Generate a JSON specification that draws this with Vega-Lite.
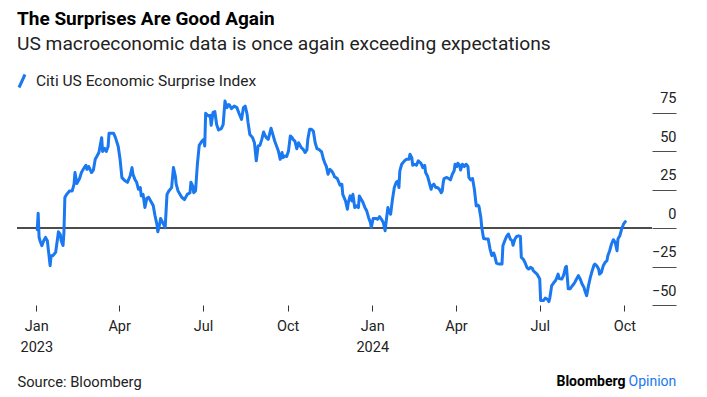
{
  "$schema": "https://vega.github.io/schema/vega-lite/v6.json",
  "width": 635,
  "height": 209,
  "autosize": {"type": "none"},
  "padding": {"left": 17, "top": 96, "right": 55, "bottom": 92},
  "background": "white",
  "title": {
    "text": "The Surprises Are Good Again",
    "subtitle": "US macroeconomic data is once again exceeding expectations",
    "anchor": "start",
    "frame": "group",
    "offset": 19,
    "font": "Roboto",
    "fontSize": 19,
    "fontWeight": "bold",
    "color": "#000000",
    "subtitleFont": "Roboto",
    "subtitleFontSize": 19.2,
    "subtitleColor": "#222222",
    "subtitlePadding": 6
  },
  "data": {
    "values": [
      {"date": "2023-01-02", "value": -1},
      {"date": "2023-01-03", "value": 9.7},
      {"date": "2023-01-04", "value": -6},
      {"date": "2023-01-05", "value": -8.2},
      {"date": "2023-01-07", "value": -11.4},
      {"date": "2023-01-09", "value": -8.2},
      {"date": "2023-01-11", "value": -6},
      {"date": "2023-01-13", "value": -8.2},
      {"date": "2023-01-14", "value": -13.6},
      {"date": "2023-01-16", "value": -24.4},
      {"date": "2023-01-17", "value": -17.9},
      {"date": "2023-01-19", "value": -17.9},
      {"date": "2023-01-22", "value": -15.7},
      {"date": "2023-01-24", "value": -7.1},
      {"date": "2023-01-25", "value": -2.4},
      {"date": "2023-01-27", "value": -4},
      {"date": "2023-01-28", "value": -8.2},
      {"date": "2023-01-30", "value": -11.3},
      {"date": "2023-01-31", "value": -2.9},
      {"date": "2023-02-01", "value": 19.9},
      {"date": "2023-02-03", "value": 22},
      {"date": "2023-02-06", "value": 24.2},
      {"date": "2023-02-09", "value": 24.2},
      {"date": "2023-02-11", "value": 28.6},
      {"date": "2023-02-12", "value": 36.2},
      {"date": "2023-02-14", "value": 29},
      {"date": "2023-02-17", "value": 32.3},
      {"date": "2023-02-19", "value": 36.2},
      {"date": "2023-02-22", "value": 39.4},
      {"date": "2023-02-24", "value": 40.9},
      {"date": "2023-02-25", "value": 38.3},
      {"date": "2023-02-27", "value": 40.1},
      {"date": "2023-03-02", "value": 36.2},
      {"date": "2023-03-04", "value": 37.8},
      {"date": "2023-03-06", "value": 44.8},
      {"date": "2023-03-08", "value": 47},
      {"date": "2023-03-10", "value": 49.2},
      {"date": "2023-03-13", "value": 58.9},
      {"date": "2023-03-14", "value": 49.9},
      {"date": "2023-03-16", "value": 52},
      {"date": "2023-03-18", "value": 49.9},
      {"date": "2023-03-20", "value": 53.1},
      {"date": "2023-03-21", "value": 61.7},
      {"date": "2023-03-24", "value": 61.7},
      {"date": "2023-03-26", "value": 61.7},
      {"date": "2023-03-28", "value": 58.9},
      {"date": "2023-03-31", "value": 53.1},
      {"date": "2023-04-02", "value": 44.8},
      {"date": "2023-04-04", "value": 32.9},
      {"date": "2023-04-07", "value": 31},
      {"date": "2023-04-10", "value": 29.8},
      {"date": "2023-04-13", "value": 34.1},
      {"date": "2023-04-15", "value": 39.4},
      {"date": "2023-04-16", "value": 35.1},
      {"date": "2023-04-18", "value": 31.9},
      {"date": "2023-04-20", "value": 29.8},
      {"date": "2023-04-22", "value": 25.3},
      {"date": "2023-04-24", "value": 26.4},
      {"date": "2023-04-25", "value": 21},
      {"date": "2023-04-27", "value": 22},
      {"date": "2023-04-29", "value": 13.4},
      {"date": "2023-05-01", "value": 19.4},
      {"date": "2023-05-03", "value": 20.1},
      {"date": "2023-05-06", "value": 16.9},
      {"date": "2023-05-08", "value": 14.7},
      {"date": "2023-05-10", "value": 8},
      {"date": "2023-05-12", "value": 2.6},
      {"date": "2023-05-13", "value": -2.4},
      {"date": "2023-05-15", "value": 2.6},
      {"date": "2023-05-16", "value": 6.3},
      {"date": "2023-05-18", "value": 4.1},
      {"date": "2023-05-21", "value": 0.3},
      {"date": "2023-05-23", "value": 22},
      {"date": "2023-05-25", "value": 24.2},
      {"date": "2023-05-28", "value": 26.4},
      {"date": "2023-05-30", "value": 39.4},
      {"date": "2023-06-01", "value": 34.1},
      {"date": "2023-06-02", "value": 28.6},
      {"date": "2023-06-04", "value": 24.2},
      {"date": "2023-06-08", "value": 20.1},
      {"date": "2023-06-11", "value": 18.6},
      {"date": "2023-06-14", "value": 22},
      {"date": "2023-06-17", "value": 23.1},
      {"date": "2023-06-18", "value": 29.9},
      {"date": "2023-06-20", "value": 27.3},
      {"date": "2023-06-21", "value": 23.1},
      {"date": "2023-06-23", "value": 24.2},
      {"date": "2023-06-25", "value": 41.6},
      {"date": "2023-06-27", "value": 53.9},
      {"date": "2023-06-30", "value": 56.7},
      {"date": "2023-07-02", "value": 57.8},
      {"date": "2023-07-03", "value": 53.5},
      {"date": "2023-07-04", "value": 74.7},
      {"date": "2023-07-07", "value": 73},
      {"date": "2023-07-09", "value": 73.4},
      {"date": "2023-07-10", "value": 66.9},
      {"date": "2023-07-12", "value": 75.3},
      {"date": "2023-07-14", "value": 75.8},
      {"date": "2023-07-16", "value": 67.3},
      {"date": "2023-07-18", "value": 63.9},
      {"date": "2023-07-21", "value": 64.7},
      {"date": "2023-07-23", "value": 67.3},
      {"date": "2023-07-25", "value": 82.7},
      {"date": "2023-07-27", "value": 78.4},
      {"date": "2023-07-29", "value": 80.5},
      {"date": "2023-07-30", "value": 80},
      {"date": "2023-08-01", "value": 77.8},
      {"date": "2023-08-04", "value": 79.4},
      {"date": "2023-08-07", "value": 78.4},
      {"date": "2023-08-09", "value": 75.1},
      {"date": "2023-08-12", "value": 70.8},
      {"date": "2023-08-14", "value": 78.4},
      {"date": "2023-08-16", "value": 79.4},
      {"date": "2023-08-18", "value": 74.2},
      {"date": "2023-08-19", "value": 69},
      {"date": "2023-08-21", "value": 61},
      {"date": "2023-08-24", "value": 58.9},
      {"date": "2023-08-26", "value": 55.6},
      {"date": "2023-08-28", "value": 43.8},
      {"date": "2023-08-30", "value": 53.5},
      {"date": "2023-09-01", "value": 53.9},
      {"date": "2023-09-03", "value": 57.8},
      {"date": "2023-09-05", "value": 62.6},
      {"date": "2023-09-06", "value": 61},
      {"date": "2023-09-08", "value": 58.9},
      {"date": "2023-09-10", "value": 57.8},
      {"date": "2023-09-13", "value": 65},
      {"date": "2023-09-15", "value": 61},
      {"date": "2023-09-17", "value": 56.7},
      {"date": "2023-09-19", "value": 53.5},
      {"date": "2023-09-21", "value": 50.2},
      {"date": "2023-09-23", "value": 44.8},
      {"date": "2023-09-25", "value": 49.2},
      {"date": "2023-09-26", "value": 45.9},
      {"date": "2023-09-28", "value": 47},
      {"date": "2023-09-30", "value": 46.6},
      {"date": "2023-10-02", "value": 50.2},
      {"date": "2023-10-04", "value": 60},
      {"date": "2023-10-06", "value": 58.9},
      {"date": "2023-10-07", "value": 57.8},
      {"date": "2023-10-09", "value": 56.7},
      {"date": "2023-10-11", "value": 51.7},
      {"date": "2023-10-13", "value": 55.6},
      {"date": "2023-10-14", "value": 54.5},
      {"date": "2023-10-16", "value": 52.4},
      {"date": "2023-10-18", "value": 51.3},
      {"date": "2023-10-20", "value": 49.2},
      {"date": "2023-10-22", "value": 50.9},
      {"date": "2023-10-23", "value": 57.8},
      {"date": "2023-10-25", "value": 64.3},
      {"date": "2023-10-27", "value": 64.3},
      {"date": "2023-10-29", "value": 63.2},
      {"date": "2023-10-31", "value": 55.6},
      {"date": "2023-11-02", "value": 51.7},
      {"date": "2023-11-04", "value": 51.3},
      {"date": "2023-11-07", "value": 49.6},
      {"date": "2023-11-09", "value": 44.8},
      {"date": "2023-11-11", "value": 41.6},
      {"date": "2023-11-12", "value": 40.5},
      {"date": "2023-11-14", "value": 35.1},
      {"date": "2023-11-16", "value": 38.3},
      {"date": "2023-11-18", "value": 37.2},
      {"date": "2023-11-20", "value": 35.1},
      {"date": "2023-11-21", "value": 33.5},
      {"date": "2023-11-24", "value": 32.3},
      {"date": "2023-11-27", "value": 28},
      {"date": "2023-11-29", "value": 28.6},
      {"date": "2023-11-30", "value": 22},
      {"date": "2023-12-03", "value": 17.7},
      {"date": "2023-12-05", "value": 12.3},
      {"date": "2023-12-06", "value": 16.7},
      {"date": "2023-12-08", "value": 21},
      {"date": "2023-12-10", "value": 17.7},
      {"date": "2023-12-11", "value": 22},
      {"date": "2023-12-13", "value": 13.4},
      {"date": "2023-12-15", "value": 14.5},
      {"date": "2023-12-17", "value": 13.4},
      {"date": "2023-12-18", "value": 21},
      {"date": "2023-12-20", "value": 18.8},
      {"date": "2023-12-22", "value": 16.7},
      {"date": "2023-12-24", "value": 13.4},
      {"date": "2023-12-26", "value": 11.3},
      {"date": "2023-12-28", "value": 7},
      {"date": "2023-12-30", "value": 3.7},
      {"date": "2023-12-31", "value": 0.4},
      {"date": "2024-01-02", "value": 6.3},
      {"date": "2024-01-05", "value": 6.3},
      {"date": "2024-01-07", "value": 5.8},
      {"date": "2024-01-09", "value": 7.5},
      {"date": "2024-01-11", "value": 5.8},
      {"date": "2024-01-13", "value": 3.7},
      {"date": "2024-01-15", "value": -1.7},
      {"date": "2024-01-16", "value": 3.7},
      {"date": "2024-01-18", "value": 13.4},
      {"date": "2024-01-19", "value": 11.3},
      {"date": "2024-01-21", "value": 9.1},
      {"date": "2024-01-23", "value": 18.8},
      {"date": "2024-01-25", "value": 26.4},
      {"date": "2024-01-27", "value": 29.7},
      {"date": "2024-01-29", "value": 30.7},
      {"date": "2024-01-30", "value": 26.4},
      {"date": "2024-01-31", "value": 37.3},
      {"date": "2024-02-02", "value": 41.6},
      {"date": "2024-02-05", "value": 43.8},
      {"date": "2024-02-07", "value": 44.8},
      {"date": "2024-02-10", "value": 44.8},
      {"date": "2024-02-11", "value": 48.1},
      {"date": "2024-02-13", "value": 45.9},
      {"date": "2024-02-14", "value": 40.9},
      {"date": "2024-02-16", "value": 41.6},
      {"date": "2024-02-18", "value": 40.9},
      {"date": "2024-02-20", "value": 43.8},
      {"date": "2024-02-23", "value": 42.2},
      {"date": "2024-02-25", "value": 39.4},
      {"date": "2024-02-27", "value": 40.9},
      {"date": "2024-02-28", "value": 36.2},
      {"date": "2024-03-01", "value": 34},
      {"date": "2024-03-03", "value": 29.7},
      {"date": "2024-03-05", "value": 25.3},
      {"date": "2024-03-06", "value": 27.5},
      {"date": "2024-03-08", "value": 28.6},
      {"date": "2024-03-10", "value": 26.4},
      {"date": "2024-03-12", "value": 26.4},
      {"date": "2024-03-14", "value": 25.3},
      {"date": "2024-03-16", "value": 23.1},
      {"date": "2024-03-17", "value": 24},
      {"date": "2024-03-18", "value": 29},
      {"date": "2024-03-19", "value": 32.3},
      {"date": "2024-03-22", "value": 33},
      {"date": "2024-03-24", "value": 32.3},
      {"date": "2024-03-26", "value": 31.4},
      {"date": "2024-03-28", "value": 35.1},
      {"date": "2024-03-30", "value": 37.3},
      {"date": "2024-03-31", "value": 41.6},
      {"date": "2024-04-02", "value": 40.1},
      {"date": "2024-04-03", "value": 42.2},
      {"date": "2024-04-05", "value": 40.9},
      {"date": "2024-04-06", "value": 37.9},
      {"date": "2024-04-08", "value": 41.6},
      {"date": "2024-04-10", "value": 40.1},
      {"date": "2024-04-12", "value": 41.6},
      {"date": "2024-04-14", "value": 40.1},
      {"date": "2024-04-15", "value": 33},
      {"date": "2024-04-17", "value": 31.4},
      {"date": "2024-04-19", "value": 32.3},
      {"date": "2024-04-21", "value": 25.3},
      {"date": "2024-04-23", "value": 14.5},
      {"date": "2024-04-25", "value": 14.9},
      {"date": "2024-04-26", "value": 14.1},
      {"date": "2024-04-28", "value": 7},
      {"date": "2024-04-29", "value": 0.6},
      {"date": "2024-05-01", "value": -6.7},
      {"date": "2024-05-04", "value": -7.1},
      {"date": "2024-05-06", "value": -7.1},
      {"date": "2024-05-08", "value": -13.6},
      {"date": "2024-05-10", "value": -17.9},
      {"date": "2024-05-12", "value": -16.2},
      {"date": "2024-05-13", "value": -17.9},
      {"date": "2024-05-15", "value": -22.7},
      {"date": "2024-05-18", "value": -23.4},
      {"date": "2024-05-21", "value": -23.4},
      {"date": "2024-05-22", "value": -11.4},
      {"date": "2024-05-24", "value": -8.2},
      {"date": "2024-05-26", "value": -5.4},
      {"date": "2024-05-28", "value": -3.8},
      {"date": "2024-05-30", "value": -7.1},
      {"date": "2024-06-01", "value": -8.2},
      {"date": "2024-06-02", "value": -11.1},
      {"date": "2024-06-04", "value": -7.1},
      {"date": "2024-06-06", "value": -5.4},
      {"date": "2024-06-08", "value": -5},
      {"date": "2024-06-10", "value": -5.4},
      {"date": "2024-06-11", "value": -19},
      {"date": "2024-06-13", "value": -20.1},
      {"date": "2024-06-15", "value": -22.3},
      {"date": "2024-06-17", "value": -25.5},
      {"date": "2024-06-19", "value": -26.6},
      {"date": "2024-06-21", "value": -25.5},
      {"date": "2024-06-23", "value": -26.2},
      {"date": "2024-06-24", "value": -27.7},
      {"date": "2024-06-26", "value": -28.8},
      {"date": "2024-06-28", "value": -29.9},
      {"date": "2024-06-30", "value": -32},
      {"date": "2024-07-01", "value": -33.1},
      {"date": "2024-07-02", "value": -47.1},
      {"date": "2024-07-05", "value": -47.1},
      {"date": "2024-07-07", "value": -45.5},
      {"date": "2024-07-09", "value": -46.1},
      {"date": "2024-07-11", "value": -47.8},
      {"date": "2024-07-12", "value": -45.3},
      {"date": "2024-07-14", "value": -37.4},
      {"date": "2024-07-16", "value": -35.7},
      {"date": "2024-07-18", "value": -34.2},
      {"date": "2024-07-19", "value": -33.1},
      {"date": "2024-07-21", "value": -29.9},
      {"date": "2024-07-22", "value": -32.7},
      {"date": "2024-07-25", "value": -33.1},
      {"date": "2024-07-27", "value": -30.5},
      {"date": "2024-07-29", "value": -25.5},
      {"date": "2024-07-30", "value": -24.9},
      {"date": "2024-08-01", "value": -39.5},
      {"date": "2024-08-03", "value": -39.5},
      {"date": "2024-08-05", "value": -37.8},
      {"date": "2024-08-07", "value": -36.3},
      {"date": "2024-08-08", "value": -35.3},
      {"date": "2024-08-10", "value": -33.1},
      {"date": "2024-08-12", "value": -30.9},
      {"date": "2024-08-14", "value": -33.1},
      {"date": "2024-08-16", "value": -36.3},
      {"date": "2024-08-18", "value": -38.4},
      {"date": "2024-08-19", "value": -40.6},
      {"date": "2024-08-21", "value": -43.9},
      {"date": "2024-08-23", "value": -37.4},
      {"date": "2024-08-25", "value": -32},
      {"date": "2024-08-27", "value": -27.7},
      {"date": "2024-08-29", "value": -24},
      {"date": "2024-08-30", "value": -23.4},
      {"date": "2024-09-01", "value": -24.5},
      {"date": "2024-09-03", "value": -26.6},
      {"date": "2024-09-04", "value": -29.9},
      {"date": "2024-09-06", "value": -28.8},
      {"date": "2024-09-08", "value": -24.5},
      {"date": "2024-09-10", "value": -22.3},
      {"date": "2024-09-12", "value": -21.2},
      {"date": "2024-09-13", "value": -17.9},
      {"date": "2024-09-15", "value": -14.7},
      {"date": "2024-09-17", "value": -10.3},
      {"date": "2024-09-19", "value": -7.5},
      {"date": "2024-09-21", "value": -9.3},
      {"date": "2024-09-23", "value": -14.7},
      {"date": "2024-09-24", "value": -7.1},
      {"date": "2024-09-26", "value": -5},
      {"date": "2024-09-28", "value": -0.6},
      {"date": "2024-09-30", "value": 2.6},
      {"date": "2024-10-02", "value": 4.2}
    ]
  },
  "layer": [
    {
      "mark": {"type": "rule", "color": "#4d4d4d", "strokeWidth": 1.5},
      "encoding": {
        "y": {
          "datum": 0,
          "type": "quantitative",
          "scale": {"domain": [-50, 86]},
          "axis": {
            "orient": "left",
            "title": "Opinion",
            "labels": false,
            "ticks": false,
            "domain": false,
            "grid": false,
            "titleAngle": 0,
            "titleX": 611,
            "titleY": 289,
            "titleAlign": "left",
            "titleBaseline": "alphabetic",
            "titleColor": "#1a78f0",
            "titleFont": "Roboto",
            "titleFontSize": 14,
            "titleFontWeight": "normal"
          }
        }
      }
    },
    {
      "mark": {"type": "line", "strokeWidth": 3, "strokeJoin": "round", "strokeCap": "round"},
      "encoding": {
        "x": {
          "field": "date",
          "type": "temporal",
          "scale": {
            "type": "utc",
            "domain": [
              {"year": 2022, "month": 12, "date": 11, "utc": true},
              {"year": 2024, "month": 10, "date": 31, "utc": true}
            ]
          },
          "axis": {
            "values": [
              {"year": 2023, "month": 1, "date": 1, "utc": true},
              {"year": 2023, "month": 4, "date": 1, "utc": true},
              {"year": 2023, "month": 7, "date": 1, "utc": true},
              {"year": 2023, "month": 10, "date": 1, "utc": true},
              {"year": 2024, "month": 1, "date": 1, "utc": true},
              {"year": 2024, "month": 4, "date": 1, "utc": true},
              {"year": 2024, "month": 7, "date": 1, "utc": true},
              {"year": 2024, "month": 10, "date": 1, "utc": true}
            ],
            "domain": false,
            "grid": false,
            "tickSize": 6,
            "tickColor": "#333333",
            "labelPadding": 8,
            "labelFont": "Roboto",
            "labelFontSize": 14.5,
            "labelColor": "#222222",
            "labelLineHeight": 21,
            "labelOverlap": false,
            "labelFlush": false,
            "labelExpr": "utcmonth(datum.value) == 0 ? [utcFormat(datum.value, '%b'), utcFormat(datum.value, '%Y')] : utcFormat(datum.value, '%b')",
            "title": "Source: Bloomberg",
            "titleX": 0,
            "titleY": 81,
            "titleAnchor": "start",
            "titleAlign": "left",
            "titleBaseline": "alphabetic",
            "titleFont": "Roboto",
            "titleFontSize": 14.7,
            "titleFontWeight": "normal",
            "titleColor": "#222222"
          }
        },
        "y": {
          "field": "value",
          "type": "quantitative",
          "scale": {"domain": [-50, 86]},
          "axis": {
            "orient": "right",
            "values": [-50, -25, 0, 25, 50, 75],
            "domain": false,
            "grid": false,
            "tickSize": 24,
            "tickColor": "#4d4d4d",
            "tickWidth": 1,
            "labelAlign": "right",
            "labelPadding": 0,
            "labelBaseline": "alphabetic",
            "labelOffset": -10,
            "labelFont": "Roboto",
            "labelFontSize": 14.5,
            "labelColor": "#222222",
            "labelOverlap": false,
            "title": "Bloomberg",
            "titleAngle": 0,
            "titleX": -27,
            "titleY": 289,
            "titleAlign": "right",
            "titleBaseline": "alphabetic",
            "titleFont": "Roboto",
            "titleFontSize": 14,
            "titleFontWeight": "bold",
            "titleColor": "#000000"
          }
        },
        "color": {
          "datum": "Citi US Economic Surprise Index",
          "type": "nominal",
          "scale": {"range": ["#1a78f0"]},
          "legend": {
            "orient": "none",
            "legendX": -3,
            "legendY": -23,
            "title": null,
            "padding": 0,
            "symbolType": "M-0.46,1L0.46,-1",
            "symbolSize": 169,
            "symbolStrokeWidth": 3,
            "symbolFillColor": "transparent",
            "labelOffset": 6,
            "labelLimit": 0,
            "labelFont": "Roboto",
            "labelFontSize": 15.5,
            "labelColor": "#222222"
          }
        }
      }
    }
  ],
  "resolve": {"axis": {"y": "independent"}},
  "config": {"view": {"stroke": null}, "font": "Roboto"}
}
